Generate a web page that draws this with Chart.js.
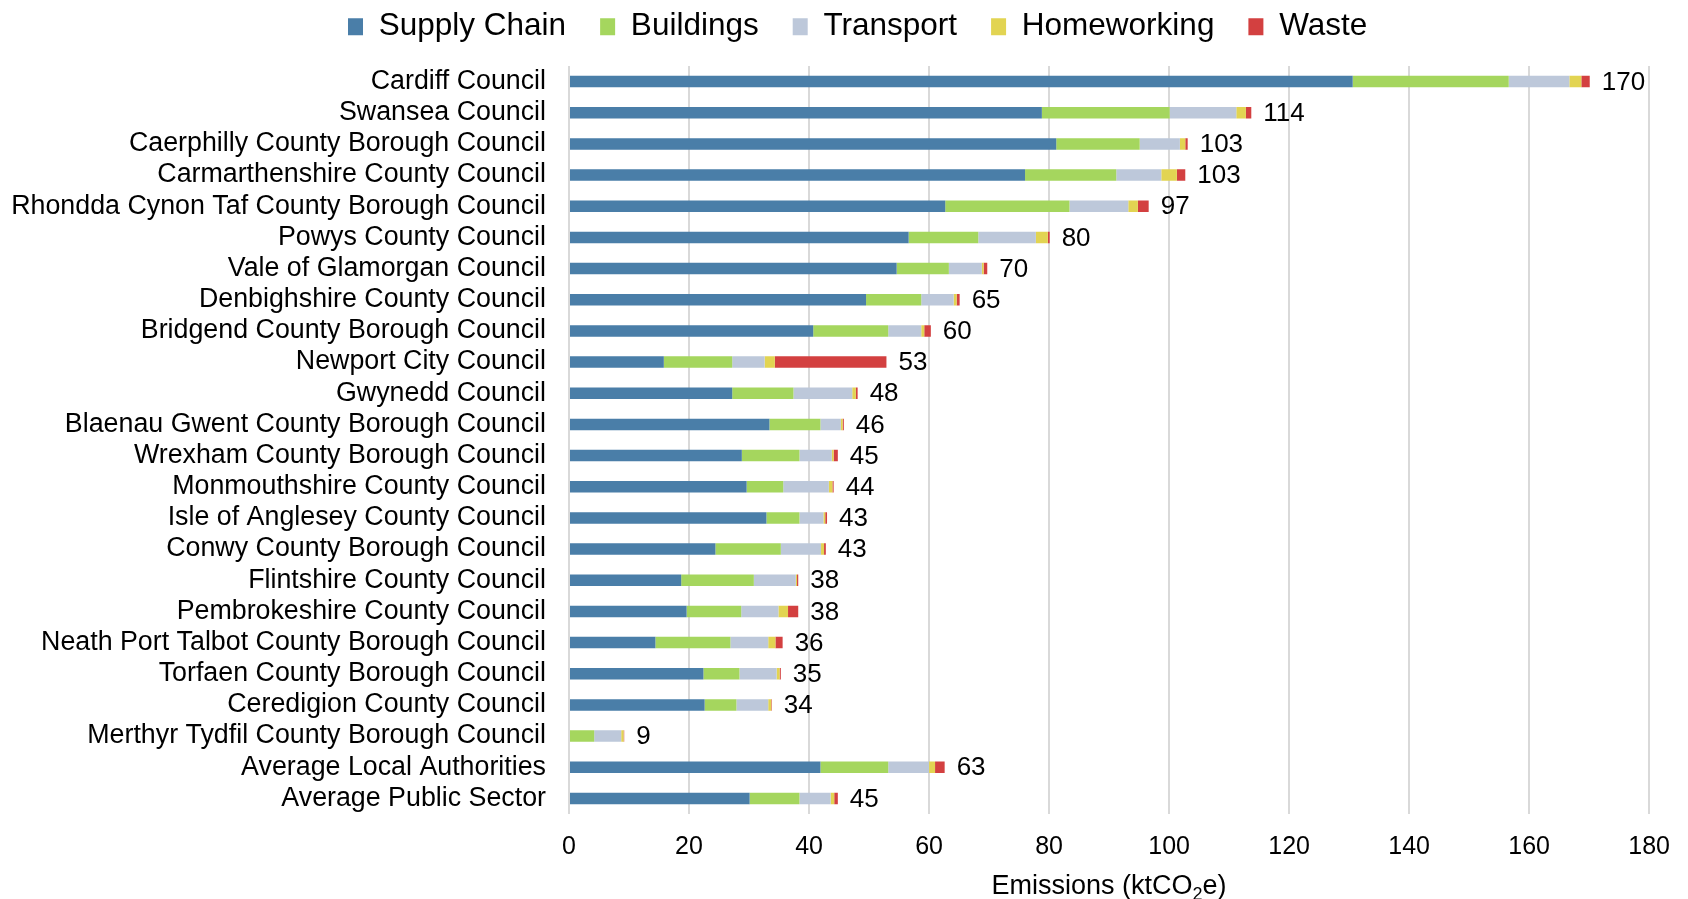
<!DOCTYPE html>
<html>
<head>
<meta charset="utf-8">
<script src="https://cdn.jsdelivr.net/npm/chart.js@4"></script>
<style>
    html, body { margin: 0; padding: 0; background: #fff; }
    #wrap { width: 1688px; height: 899px; }
</style>
</head>
<body>
<div id="wrap"><canvas id="emissions-chart" width="1688" height="899"></canvas></div>
<script>
// Datos (ktCO2e)
const councils = [
    "Cardiff Council", "Swansea Council", "Caerphilly County Borough Council",
    "Carmarthenshire County Council", "Rhondda Cynon Taf County Borough Council",
    "Powys County Council", "Vale of Glamorgan Council", "Denbighshire County Council",
    "Bridgend County Borough Council", "Newport City Council", "Gwynedd Council",
    "Blaenau Gwent County Borough Council", "Wrexham County Borough Council",
    "Monmouthshire County Council", "Isle of Anglesey County Council",
    "Conwy County Borough Council", "Flintshire County Council",
    "Pembrokeshire County Council", "Neath Port Talbot County Borough Council",
    "Torfaen County Borough Council", "Ceredigion County Council",
    "Merthyr Tydfil County Borough Council", "Average Local Authorities",
    "Average Public Sector"
];
const supplyChain = [130.6, 78.8, 81.2, 76.0, 62.7, 56.6, 54.6, 49.5, 40.7, 15.8, 27.2, 33.4, 28.8, 29.6, 32.9, 24.4, 18.7, 19.6, 14.4, 22.4, 22.6, 0, 41.9, 30.1];
const buildings   = [26.0, 21.3, 13.9, 15.2, 20.7, 11.6, 8.7, 9.2, 12.5, 11.4, 10.2, 8.5, 9.6, 6.1, 5.5, 10.9, 12.1, 9.1, 12.5, 6.0, 5.3, 4.2, 11.3, 8.3];
const transport   = [10.1, 11.1, 6.7, 7.5, 9.8, 9.6, 5.5, 5.4, 5.5, 5.4, 9.8, 3.4, 5.4, 7.6, 4.0, 6.7, 7.0, 6.2, 6.3, 6.2, 5.3, 4.5, 6.8, 5.2];
const homeworking = [2.0, 1.6, 0.9, 2.6, 1.6, 2.0, 0.3, 0.5, 0.5, 1.7, 0.6, 0.3, 0.3, 0.6, 0.3, 0.5, 0.2, 1.6, 1.2, 0.5, 0.5, 0.4, 1.0, 0.6];
const waste       = [1.4, 0.9, 0.4, 1.4, 1.8, 0.3, 0.6, 0.5, 1.1, 18.6, 0.3, 0.2, 0.7, 0.2, 0.3, 0.3, 0.2, 1.7, 1.2, 0.2, 0.1, 0.1, 1.6, 0.6];
const totals      = [170, 114, 103, 103, 97, 80, 70, 65, 60, 53, 48, 46, 45, 44, 43, 43, 38, 38, 36, 35, 34, 9, 63, 45];
const xTicks = [0, 20, 40, 60, 80, 100, 120, 140, 160, 180];

const FONT = "'Liberation Sans', Arial, sans-serif";

// Etiquetas de total al final de cada barra
const totalLabels = {
    id: 'totalLabels',
    afterDatasetsDraw(chart) {
        const ctx = chart.ctx;
        const xScale = chart.scales.x;
        const yScale = chart.scales.y;
        ctx.save();
        ctx.font = "26px " + FONT;
        ctx.fillStyle = "#000";
        ctx.textAlign = "left";
        ctx.textBaseline = "middle";
        totals.forEach((t, i) => {
            let sum = 0;
            chart.data.datasets.forEach(ds => { sum += ds.data[i]; });
            ctx.fillText(String(t), xScale.getPixelForValue(sum) + 12, yScale.getPixelForValue(i) + 1);
        });
        ctx.restore();
    }
};

// Título del eje X con subíndice
const axisTitle = {
    id: 'axisTitle',
    afterDraw(chart) {
        const ctx = chart.ctx;
        const area = chart.chartArea;
        const parts = [["Emissions (ktCO", 27, 0], ["2", 18, 6], ["e)", 27, 0]];
        ctx.save();
        ctx.fillStyle = "#000";
        ctx.textBaseline = "alphabetic";
        let total = 0;
        parts.forEach(p => { ctx.font = p[1] + "px " + FONT; total += ctx.measureText(p[0]).width; });
        let x = (area.left + area.right) / 2 - total / 2;
        const y = area.bottom + 80;
        parts.forEach(p => {
            ctx.font = p[1] + "px " + FONT;
            ctx.fillText(p[0], x, y + p[2]);
            x += ctx.measureText(p[0]).width;
        });
        ctx.restore();
    }
};

// Ajuste de la altura y posición de la leyenda
const legendSpacing = {
    id: 'legendSpacing',
    beforeInit(chart) {
        const fit = chart.legend.fit;
        chart.legend.fit = function () {
            fit.bind(chart.legend)();
            this.height = 89;
        };
    },
    afterLayout(chart) {
        chart.legend.left = 314;
    }
};

const ctx = document.getElementById('emissions-chart').getContext('2d');
new Chart(ctx, {
    type: 'bar',
    data: {
        labels: councils,
        datasets: [
            { label: 'Supply Chain', data: supplyChain, backgroundColor: '#4a7ea8' },
            { label: 'Buildings', data: buildings, backgroundColor: '#a5d65e' },
            { label: 'Transport', data: transport, backgroundColor: '#bdc8da' },
            { label: 'Homeworking', data: homeworking, backgroundColor: '#e2d452' },
            { label: 'Waste', data: waste, backgroundColor: '#d34040' }
        ]
    },
    options: {
        indexAxis: 'y',
        responsive: false,
        animation: false,
        layout: { padding: { top: -23, left: 0, right: 34, bottom: 0 } },
        datasets: {
            bar: { categoryPercentage: 1, barPercentage: 0.37, borderWidth: 0 }
        },
        plugins: {
            legend: {
                position: 'top',
                align: 'start',
                labels: {
                    boxWidth: 15,
                    boxHeight: 17,
                    padding: 34,
                    color: '#000',
                    font: { family: FONT, size: 31.5 }
                }
            },
            tooltip: { enabled: false }
        },
        scales: {
            x: {
                stacked: true,
                min: 0,
                max: 180,
                afterBuildTicks: (scale) => { scale.ticks = xTicks.map(v => ({ value: v })); },
                afterFit: (scale) => { scale.height = 85; },
                grid: { color: '#d9d9d9', lineWidth: 2, drawTicks: false },
                border: { display: false },
                ticks: { color: '#000', padding: 18, font: { family: FONT, size: 25 } }
            },
            y: {
                stacked: true,
                afterFit: (scale) => { scale.width = 569; },
                grid: { display: false },
                border: { display: false },
                ticks: { color: '#000', padding: 15, autoSkip: false, font: { family: FONT, size: 26.8 } }
            }
        }
    },
    plugins: [legendSpacing, totalLabels, axisTitle]
});
</script>
</body>
</html>
